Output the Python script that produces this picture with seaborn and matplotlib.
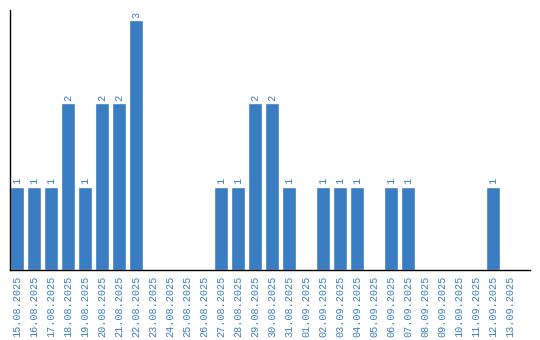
import matplotlib
matplotlib.use("Agg")
import matplotlib.pyplot as plt
import seaborn as sns
import pandas as pd

dates = ["15.08.2025", "16.08.2025", "17.08.2025", "18.08.2025", "19.08.2025",
         "20.08.2025", "21.08.2025", "22.08.2025", "23.08.2025", "24.08.2025",
         "25.08.2025", "26.08.2025", "27.08.2025", "28.08.2025", "29.08.2025",
         "30.08.2025", "31.08.2025", "01.09.2025", "02.09.2025", "03.09.2025",
         "04.09.2025", "05.09.2025", "06.09.2025", "07.09.2025", "08.09.2025",
         "09.09.2025", "10.09.2025", "11.09.2025", "12.09.2025", "13.09.2025"]
counts = [1, 1, 1, 2, 1, 2, 2, 3, 0, 0, 0, 0, 1, 1, 2, 2, 1, 0, 1, 1, 1, 0, 1, 1,
          0, 0, 0, 0, 1, 0]

df = pd.DataFrame({"date": dates, "count": counts})
blue = "#3b7dc2"

sns.set_style("white")
fig = plt.figure(figsize=(5.4, 3.4), dpi=100)
ax = fig.add_axes([10/540, 70/340, 520/540, 260/340])
sns.barplot(data=df, x="date", y="count", color=blue, saturation=1, width=0.82, ax=ax)

for i, v in enumerate(counts):
    if v > 0:
        ax.text(i, v + 0.03, str(v), rotation=90, ha="center", va="bottom",
                color=blue, fontsize=7.5, family="Liberation Mono")

ax.set_ylim(0, 3.12)
ax.set_xlim(-0.41, -0.41 + 520/17)
ax.set_xlabel("")
ax.set_ylabel("")
ax.set_yticks([])
ax.tick_params(axis="x", length=0, pad=4)
for lbl in ax.get_xticklabels():
    lbl.set_rotation(90)
    lbl.set_color(blue)
    lbl.set_fontsize(7.3)
    lbl.set_family("Liberation Mono")
for s in ["top", "right"]:
    ax.spines[s].set_visible(False)
for s in ["left", "bottom"]:
    ax.spines[s].set_color("black")
    ax.spines[s].set_linewidth(1)

fig.savefig("out.png", dpi=100)
